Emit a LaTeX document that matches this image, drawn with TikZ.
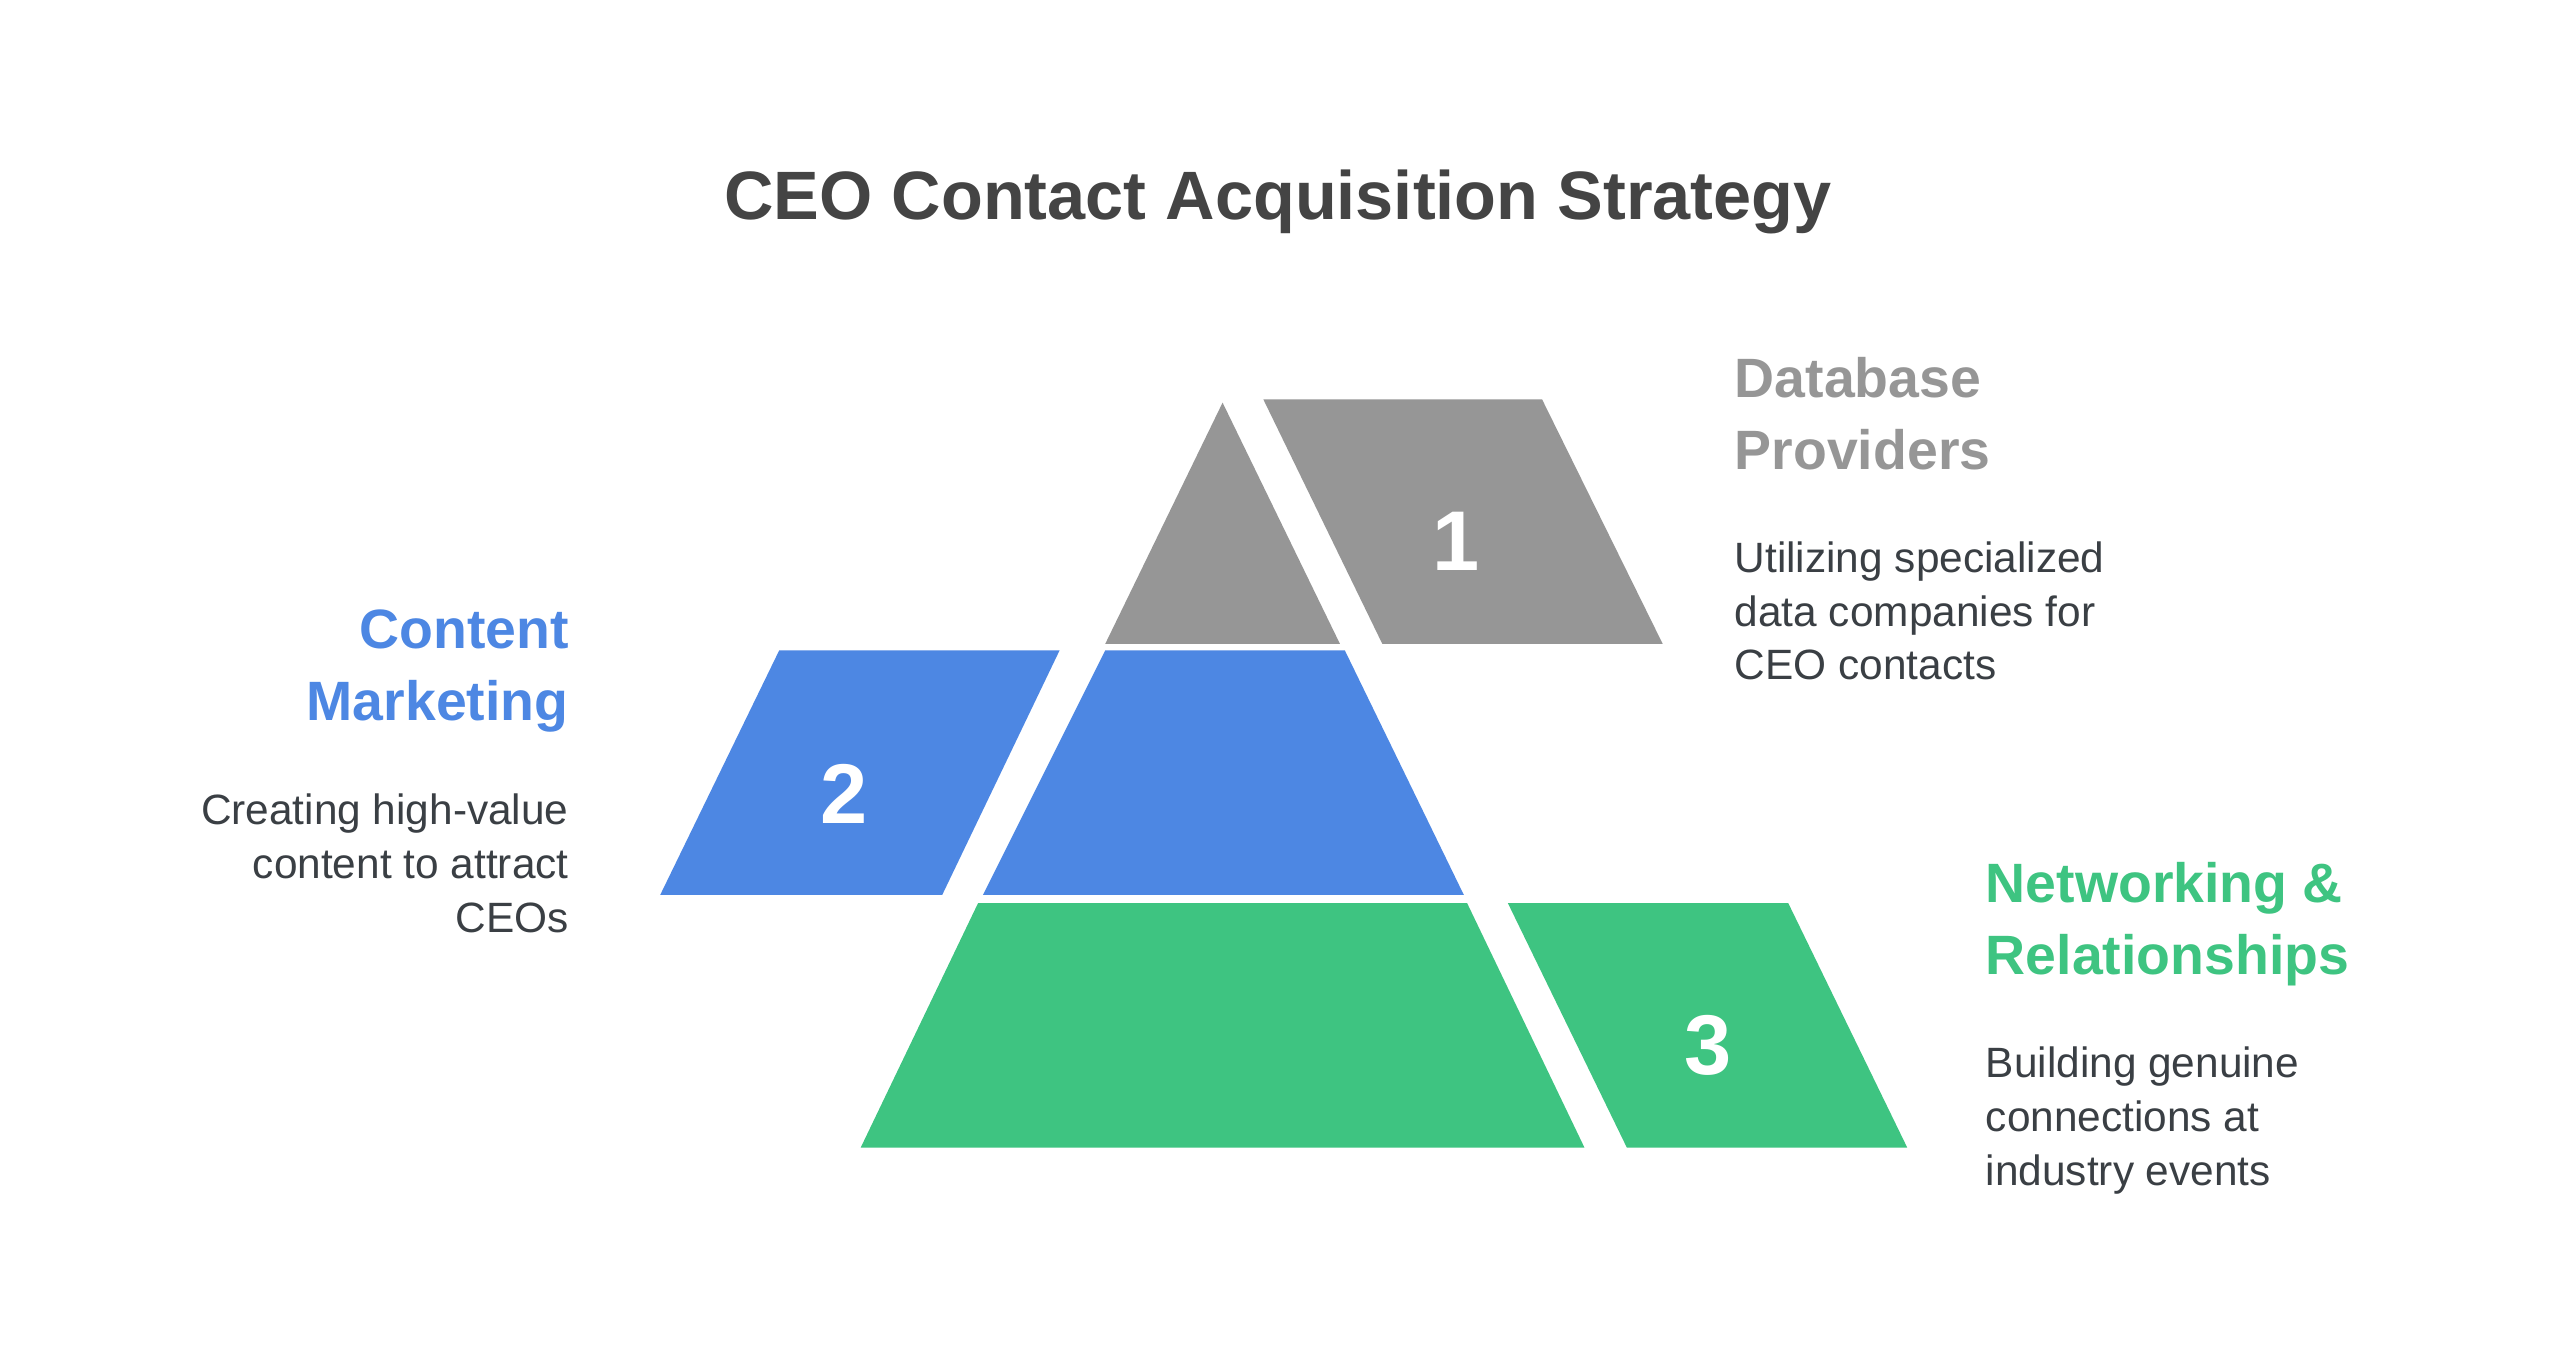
\documentclass[tikz,border=0pt]{standalone}
\usepackage{fontspec}
\setmainfont{Liberation Sans}
\definecolor{cgray}{HTML}{969696}
\definecolor{cblue}{HTML}{4D87E3}
\definecolor{cgreen}{HTML}{3EC481}
\definecolor{ctitle}{HTML}{444444}
\definecolor{cbody}{HTML}{3A3F44}
\begin{document}
\begin{tikzpicture}[x=1pt,y=-1pt,
  head/.style={font=\fontsize{34}{44}\selectfont\bfseries,inner sep=0pt},
  body/.style={font=\fontsize{26}{33}\selectfont,text=cbody,inner sep=0pt},
  num/.style={font=\fontsize{52}{52}\selectfont\bfseries,text=white}]
\useasboundingbox (0,0) rectangle (1568,839);
\fill[white] (0,0) rectangle (1568,839);
\node[font=\fontsize{42}{50}\selectfont\bfseries,text=ctitle] (title) at (784,124) {CEO Contact Acquisition Strategy};
% shapes
\fill[cgray] (750,247) -- (822,395) -- (678,395) -- cycle;
\fill[cgray] (775,245) -- (946,245) -- (1020,395) -- (848,395) -- cycle;
\fill[cblue] (678,399) -- (825,399) -- (898,549) -- (603,549) -- cycle;
\fill[cblue] (478,399) -- (650,399) -- (578,549) -- (405,549) -- cycle;
\fill[cgreen] (600,554) -- (900,554) -- (972,704) -- (528,704) -- cycle;
\fill[cgreen] (925,554) -- (1097,554) -- (1170,704) -- (998,704) -- cycle;
\node[num] (n1) at (893,332) {1};
\node[num] (n2) at (518,487) {2};
\node[num] (n3) at (1048,641) {3};
% texts
\node[head,text=cgray,align=left,anchor=north west] (h1) at (1064,219) {Database\\Providers};
\node[body,align=left,anchor=north west] (b1) at (1064,332) {Utilizing specialized\\data companies for\\CEO contacts};
\node[head,text=cblue,align=right,anchor=north east] (h2) at (349,374) {Content\\Marketing};
\node[body,align=right,anchor=north east] (b2) at (349,487) {Creating high-value\\content to attract\\CEOs};
\node[head,text=cgreen,align=left,anchor=north west] (h3) at (1218,529) {Networking \&\\Relationships};
\node[body,align=left,anchor=north west] (b3) at (1218,642) {Building genuine\\connections at\\industry events};
\end{tikzpicture}
\end{document}
